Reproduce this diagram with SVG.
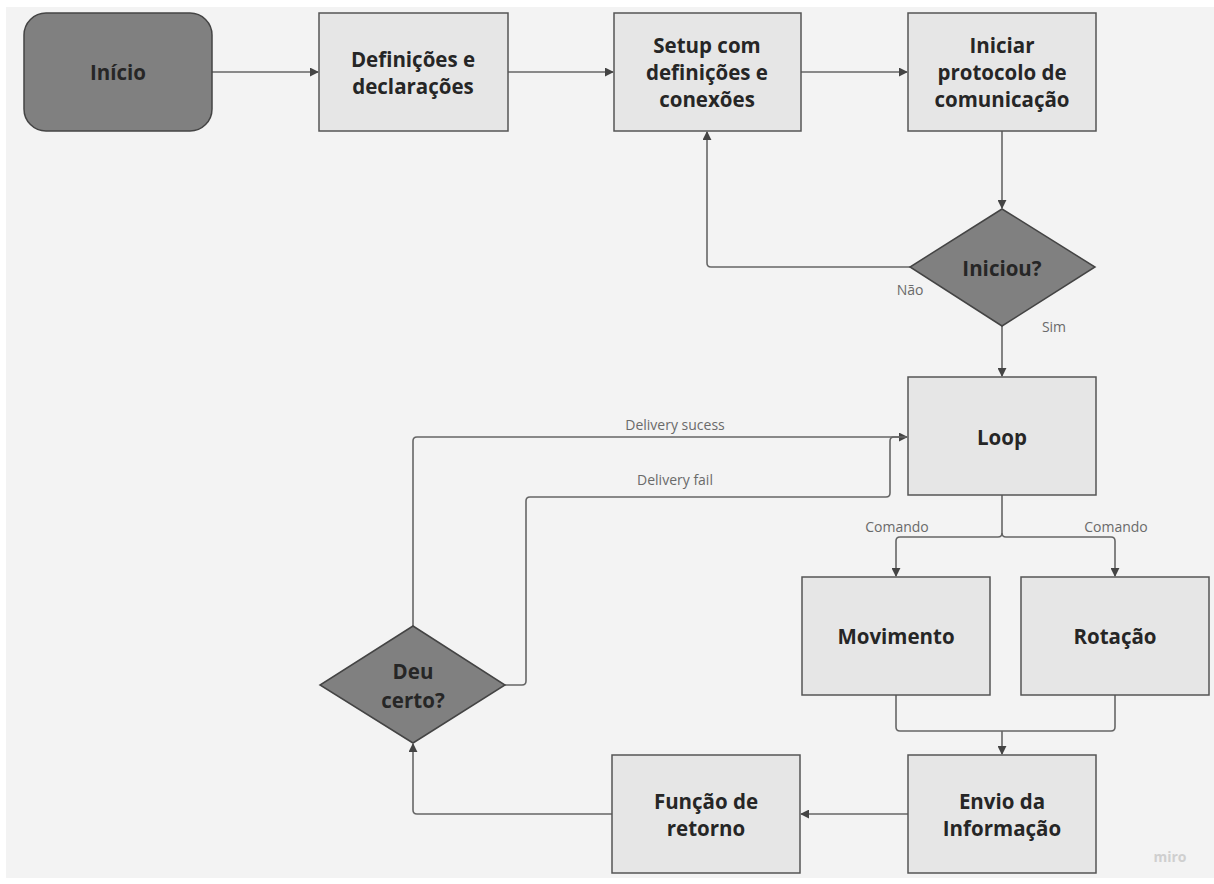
<svg xmlns="http://www.w3.org/2000/svg" width="1214" height="884" viewBox="0 0 1214 884">
<defs>
<style>
.box{fill:#e6e6e6;stroke:#555;stroke-width:1.5}
.dark{fill:#808080;stroke:#444;stroke-width:1.5}
.t{font-family:"Open Sans","Noto Sans","DejaVu Sans",sans-serif;font-weight:bold;font-size:20.5px;fill:#262626;text-anchor:middle;dominant-baseline:central}
.lbl{font-family:"Open Sans","Noto Sans","DejaVu Sans",sans-serif;font-size:14px;fill:#6a6a6a;text-anchor:middle;dominant-baseline:central}
.c{fill:none;stroke:#666;stroke-width:1.6;stroke-linejoin:round}
</style>
<marker id="ah" viewBox="0 0 10 10" refX="9" refY="5" markerWidth="9" markerHeight="9" markerUnits="userSpaceOnUse" orient="auto">
<path d="M0,0 L10,5 L0,10 z" fill="#444"/>
</marker>
</defs>
<rect x="0" y="0" width="1214" height="884" fill="#ffffff"/>
<rect x="6" y="7" width="1208" height="871" fill="#f3f3f3"/>

<g id="connectors">
<path class="c" d="M212,72 H318" marker-end="url(#ah)"/>
<path class="c" d="M508,72 H613" marker-end="url(#ah)"/>
<path class="c" d="M801,72 H907" marker-end="url(#ah)"/>
<path class="c" d="M1002,131 V208" marker-end="url(#ah)"/>
<path class="c" d="M910,267 H711 Q707,267 707,263 V132" marker-end="url(#ah)"/>
<path class="c" d="M1002,326 V376" marker-end="url(#ah)"/>
<path class="c" d="M1002,495 V533 Q1002,537 998,537 H900 Q896,537 896,541 V576" marker-end="url(#ah)"/>
<path class="c" d="M1002,533 Q1002,537 1006,537 H1111 Q1115,537 1115,541 V576" marker-end="url(#ah)"/>
<path class="c" d="M896,695 V727 Q896,731 900,731 H1111 Q1115,731 1115,727 V695"/>
<path class="c" d="M1002,731 V754" marker-end="url(#ah)"/>
<path class="c" d="M908,814 H801" marker-end="url(#ah)"/>
<path class="c" d="M612,814 H417 Q413,814 413,810 V744" marker-end="url(#ah)"/>
<path class="c" d="M413,626 V441 Q413,437 417,437 H907" marker-end="url(#ah)"/>
<path class="c" d="M505,685 H522 Q526,685 526,681 V501 Q526,497 530,497 H886 Q890,497 890,493 V441 Q890,437 894,437 H907"/>
<text class="lbl" x="910" y="289">Não</text>
<text class="lbl" x="1054" y="326">Sim</text>
<text class="lbl" x="675" y="424">Delivery sucess</text>
<text class="lbl" x="675" y="479">Delivery fail</text>
<text class="lbl" x="897" y="526">Comando</text>
<text class="lbl" x="1116" y="526">Comando</text>
</g>

<g id="inicio">
<rect class="dark" x="24" y="13" width="188" height="118" rx="22"/>
<text class="t" x="118" y="72">Início</text>
</g>
<g id="definicoes">
<rect class="box" x="319" y="13" width="189" height="118"/>
<text class="t" x="413" y="59">Definições e</text>
<text class="t" x="413" y="86">declarações</text>
</g>
<g id="setup">
<rect class="box" x="614" y="13" width="187" height="118"/>
<text class="t" x="707" y="45">Setup com</text>
<text class="t" x="707" y="72">definições e</text>
<text class="t" x="707" y="99">conexões</text>
</g>
<g id="iniciar">
<rect class="box" x="908" y="13" width="188" height="118"/>
<text class="t" x="1002" y="45">Iniciar</text>
<text class="t" x="1002" y="72">protocolo de</text>
<text class="t" x="1002" y="99">comunicação</text>
</g>
<g id="iniciou">
<polygon class="dark" points="1002,209 1095,267 1002,326 910,267"/>
<text class="t" x="1002" y="268">Iniciou?</text>
</g>
<g id="loop">
<rect class="box" x="908" y="377" width="188" height="118"/>
<text class="t" x="1002" y="437">Loop</text>
</g>
<g id="movimento">
<rect class="box" x="802" y="577" width="188" height="118"/>
<text class="t" x="896" y="636">Movimento</text>
</g>
<g id="rotacao">
<rect class="box" x="1021" y="577" width="188" height="118"/>
<text class="t" x="1115" y="636">Rotação</text>
</g>
<g id="envio">
<rect class="box" x="908" y="755" width="188" height="118"/>
<text class="t" x="1002" y="801">Envio da</text>
<text class="t" x="1002" y="828">Informação</text>
</g>
<g id="funcao">
<rect class="box" x="612" y="755" width="188" height="118"/>
<text class="t" x="706" y="801">Função de</text>
<text class="t" x="706" y="828">retorno</text>
</g>
<g id="deucerto">
<polygon class="dark" points="413,626 505,685 413,743 320,685"/>
<text class="t" x="413" y="671">Deu</text>
<text class="t" x="413" y="700">certo?</text>
</g>
<text x="1170" y="862" font-family="'Open Sans','Noto Sans',sans-serif" font-weight="bold" font-size="14" fill="#cfcfcf" text-anchor="middle">miro</text>
</svg>
